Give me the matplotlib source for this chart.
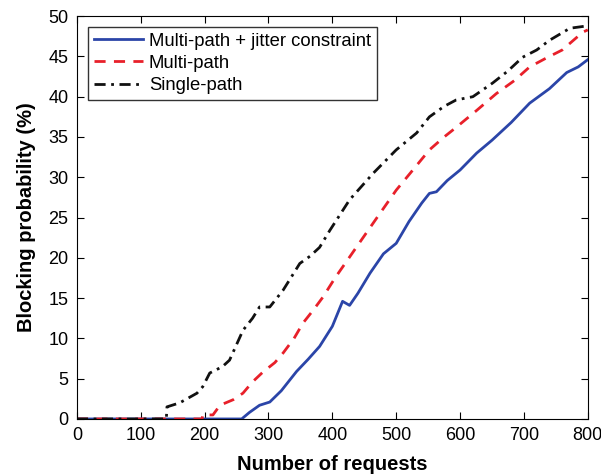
import matplotlib.pyplot as plt

plt.rcParams['font.family'] = ['Liberation Sans', 'DejaVu Sans']

# ---- data ----
jitter_x = [0, 258, 270, 286, 302, 320, 344, 362, 380, 400, 416, 427, 440, 459,
            480, 500, 520, 540, 552, 563, 580, 600, 626, 650, 680, 709, 740, 767, 785, 800]
jitter_y = [0, 0, 0.8, 1.7, 2.1, 3.5, 5.9, 7.4, 9.0, 11.5, 14.6, 14.1, 15.6, 18.1,
            20.5, 21.8, 24.5, 26.8, 28.0, 28.2, 29.6, 30.9, 33.0, 34.6, 36.8, 39.2, 41.0, 43.0, 43.7, 44.6]

multi_x = [0, 196, 197, 213, 224, 245, 260, 275, 291, 310, 323, 340, 354, 370, 385,
           405, 427, 448, 470, 500, 525, 552, 575, 594, 626, 657, 685, 709, 735, 760, 792, 800]
multi_y = [0, 0, 0.5, 0.5, 1.7, 2.4, 3.2, 4.6, 5.8, 7.0, 8.2, 10.0, 11.9, 13.5, 15.1,
           17.6, 20.1, 22.5, 25.0, 28.4, 30.8, 33.4, 35.0, 36.2, 38.3, 40.4, 42.0, 43.7, 44.8, 45.8, 48.0, 48.3]

single_x = [0, 140, 141, 161, 188, 197, 208, 228, 239, 260, 275, 286, 302, 323, 349,
            365, 380, 396, 427, 464, 500, 532, 552, 575, 594, 620, 651, 675, 698, 720, 740, 772, 800]
single_y = [0, 0, 1.5, 2.0, 3.2, 4.0, 5.7, 6.5, 7.3, 11.0, 12.5, 13.9, 13.9, 16.0, 19.3,
            20.2, 21.3, 23.4, 27.2, 30.5, 33.4, 35.5, 37.5, 38.8, 39.6, 40.0, 41.7, 43.2, 44.9, 45.8, 47.0, 48.5, 48.8]

labels = ['Multi-path + jitter constraint', 'Multi-path', 'Single-path']

# ---- plot ----
fig = plt.figure(figsize=(6.01, 4.75), dpi=100)
ax = fig.add_axes([0.128, 0.118, 0.850, 0.848])

ax.plot(jitter_x, jitter_y, color='#2b45a8', linewidth=2, label=labels[0])
ax.plot(multi_x, multi_y, color='#e8202a', linewidth=2, linestyle=(0, (4, 3)), label=labels[1])
ax.plot(single_x, single_y, color='#111111', linewidth=2, linestyle=(0, (4, 2, 1, 2)), label=labels[2])

ax.set_xlim(0, 800)
ax.set_ylim(0, 50)
ax.set_xticks(range(0, 801, 100))
ax.set_yticks(range(0, 51, 5))
ax.tick_params(direction='in', top=True, right=True, labelsize=13, length=5, pad=6)

ax.set_xlabel('Number of requests', fontsize=14.5, fontweight='bold', labelpad=8)
ax.set_ylabel('Blocking probability (%)', fontsize=14.5, fontweight='bold', labelpad=9)

leg = ax.legend(loc='upper left', fontsize=13.3, frameon=True, fancybox=False,
                edgecolor='black', handlelength=2.7, borderpad=0.3,
                labelspacing=0.28, handletextpad=0.3, borderaxespad=0.6)
leg.get_frame().set_linewidth(1)

plt.savefig('out.png', dpi=100)
